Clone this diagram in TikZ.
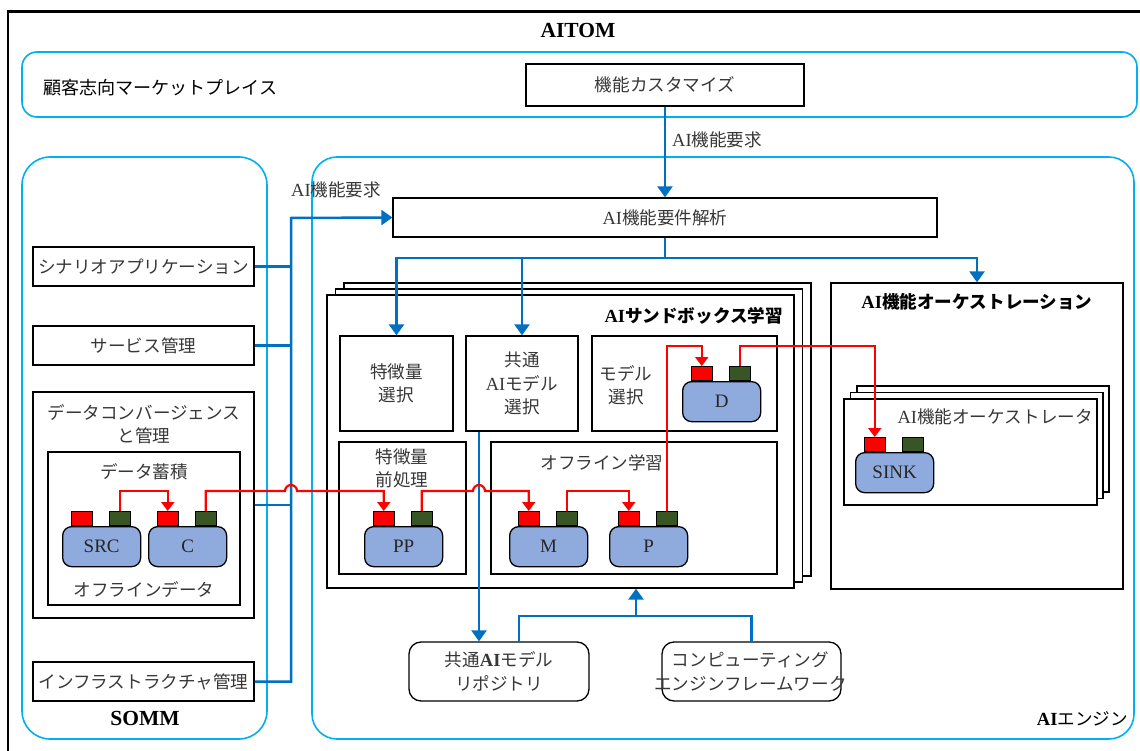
\documentclass[tikz,border=0pt]{standalone}
\usepackage{fontspec}
\setmainfont{Liberation Serif}
\newfontfamily\cjk[Scale=0.95]{Noto Sans CJK JP}
\newcommand\J[1]{{\cjk #1}}
\usetikzlibrary{fit,calc,arrows.meta}
\definecolor{cyanl}{RGB}{0,176,240}
\definecolor{bluel}{RGB}{0,112,192}
\definecolor{modf}{RGB}{143,170,220}
\definecolor{portgc}{RGB}{55,86,35}
\definecolor{txt}{RGB}{55,55,55}
\newcommand\mymod[4]{%
  \node[modbody,anchor=north west] (#1) at (#2,#3) {};
  \node[modtext] (#1t) at (#1.center) {#4};
  \node[portr,anchor=south west] (#1r) at ([xshift=9pt]#1.north west) {};
  \node[portgr,anchor=south west] (#1g) at ([xshift=47pt]#1.north west) {};
}
\begin{document}
\begin{tikzpicture}[x=1pt,y=-1pt,
  font=\fontsize{18.5}{23.5}\selectfont,
  box/.style={draw=black,line width=1.3pt,fill=white,inner sep=0pt},
  cont/.style={draw=cyanl,line width=1.6pt,rounded corners=#1,inner sep=0pt},
  rbox/.style={box,rounded corners=12pt},
  modbody/.style={draw=black,line width=1.3pt,fill=modf,rounded corners=9pt,minimum width=78pt,minimum height=40pt,inner sep=0pt},
  modtext/.style={text=black!85,inner sep=0pt,font=\fontsize{19}{23.5}\selectfont},
  portr/.style={draw=black,line width=1pt,fill=red,minimum width=20.5pt,minimum height=14pt,inner sep=0pt},
  portgr/.style={draw=black,line width=1pt,fill=portgc,minimum width=20.5pt,minimum height=14pt,inner sep=0pt},
  bl/.style={draw=bluel,line width=2.5pt},
  blarr/.style={bl,-{Triangle[length=11pt,width=15pt]}},
  rarr/.style={draw=red,line width=2.2pt,-{Triangle[length=9pt,width=13pt]}},
  lbl/.style={text=txt,inner sep=0pt,align=center},
  ttl/.style={text=black,inner sep=0pt,align=center,font=\fontsize{18.5}{23.5}\selectfont\bfseries},
]
\useasboundingbox (0,0) rectangle (1140,751);
\clip (0,0) rectangle (1140,751);
\fill[white] (0,0) rectangle (1140,751);
% outer frame
\draw[line width=2.5pt] (8,11.5) rectangle (1170,780);
\node[ttl,font=\fontsize{21.5}{24}\selectfont\bfseries] (aitom) at (578,30) {AITOM};

% containers
\node[cont=15pt,fit={(22,52)(1137,117)}] (mkt) {};
\node[lbl,text=black,anchor=west] (mktl) at (43,88) {\fontsize{19}{24}\selectfont\J{顧客志向マーケットプレイス}};
\node[cont=28pt,fit={(22,157)(267,739)}] (somm) {};
\node[cont=25pt,fit={(312,157)(1134,739)}] (eng) {};
\node[ttl,font=\fontsize{21.5}{24}\selectfont\bfseries] (somml) at (145,718) {SOMM};
\node[lbl,text=black,anchor=east] (engl) at (1128,719) {\textbf{AI}\J{エンジン}};

% top boxes
\node[box,fit={(526,64)(804,106)}] (kino) {};
\node[lbl] (kinol) at (kino.center) {\J{機能カスタマイズ}};
\node[box,fit={(393,198)(937,237)}] (ana) {};
\node[lbl] (anal) at (ana.center) {AI\J{機能要件解析}};

% SOMM boxes
\node[box,fit={(33,247)(254,286)}] (scen) {};
\node[lbl] (scenl) at (scen.center) {\J{シナリオアプリケーション}};
\node[box,fit={(33,326)(254,365)}] (serv) {};
\node[lbl] (servl) at (serv.center) {\J{サービス管理}};
\node[box,fit={(33,392)(254,618)}] (conv) {};
\node[lbl] (convl) at (144,424) {\J{データコンバージェンス}\\\J{と管理}};
\node[box,fit={(48,452)(240,605)}] (store) {};
\node[lbl] (storel) at (144,472) {\J{データ蓄積}};
\node[lbl] (offd) at (144,590) {\J{オフラインデータ}};
\node[box,fit={(33,662)(254,701)}] (infra) {};
\node[lbl] (infral) at (infra.center) {\J{インフラストラクチャ管理}};

% sandbox stack
\node[box,fit={(344,283)(811,576)}] (sb3) {};
\node[box,fit={(335.5,289)(802.5,582)}] (sb2) {};
\node[box,fit={(327,295)(794,588)}] (sb) {};
\node[ttl,anchor=east] (sbl) at (783,316) {AI\J{サンドボックス学習}};
\node[box,fit={(340,336)(453,431)}] (fsel) {};
\node[lbl] (fsell) at (fsel.center) {\J{特徴量}\\\J{選択}};
\node[box,fit={(466,336)(578,431)}] (csel) {};
\node[lbl] (csell) at (csel.center) {\J{共通}\\AI\J{モデル}\\\J{選択}};
\node[box,fit={(592,336)(777,431)}] (msel) {};
\node[lbl] (msell) at (626,385) {\J{モデル}\\\J{選択}};
\node[box,fit={(339,442)(466,574)}] (fpre) {};
\node[lbl] (fprel) at (402,468.5) {\J{特徴量}\\\J{前処理}};
\node[box,fit={(491,442)(777,574)}] (offl) {};
\node[lbl] (offll) at (602,463) {\J{オフライン学習}};

% orchestration
\node[box,fit={(831,283)(1123,589)}] (orch) {};
\node[ttl] (orchl) at (977,302) {AI\J{機能オーケストレーション}};
\node[box,fit={(857,386)(1109,492)}] (or3) {};
\node[box,fit={(850.5,392.5)(1103,498.5)}] (or2) {};
\node[box,fit={(844,399)(1097,505)}] (or1) {};
\node[lbl,anchor=east] (or1l) at (1093,417) {AI\J{機能オーケストレータ}};

% bottom boxes
\node[rbox,fit={(409,642)(589,701)}] (repo) {};
\node[lbl] (repol) at (repo.center) {\J{共通}\textbf{AI}\J{モデル}\\\J{リポジトリ}};
\node[rbox,fit={(662,642)(841,701)}] (comp) {};
\node[lbl] (compl) at ([xshift=-1pt]comp.center) {\J{コンピューティング}\\\J{エンジンフレームワーク}};

% blue connectors
\draw[blarr] (kino.south) -- (ana.north);
\node[lbl,anchor=west] (req1) at (672,140) {AI\J{機能要求}};
\coordinate (bus) at (291,218);
\draw[blarr] (infra.east) -| (bus) -- (ana.west);
\draw[bl] (scen.east) -- (scen.east -| bus);
\draw[bl] (serv.east) -- (serv.east -| bus);
\draw[bl] (conv.east) -- (conv.east -| bus);
\node[lbl,anchor=west] (req2) at (291,190) {AI\J{機能要求}};
\coordinate (dist) at (665,258);
\draw[blarr] (ana.south) -- (dist) -| (orch.north);
\draw[blarr] (dist) -| (fsel.north);
\draw[blarr] (dist) -| (csel.north);
\draw[blarr] ([xshift=-43pt]csel.south) -- ([xshift=-43pt]csel.south |- repo.north);
\coordinate (merge) at (636,616);
\draw[bl] ([xshift=20pt]repo.north) |- (merge) -| (comp.north);
\draw[blarr] (merge) -- (merge |- sb.south);

% modules
\mymod{SRC}{62}{526}{SRC}
\mymod{C}{148}{526}{C}
\mymod{PP}{364}{526}{PP}
\mymod{M}{509}{526}{M}
\mymod{P}{609}{526}{P}
\mymod{D}{682}{381}{D}
\mymod{SINK}{855}{452}{SINK}

% red connectors
\coordinate (h1) at (0,491);
\coordinate (h2) at (0,346);
\draw[rarr] (SRCg.north) -- (SRCg.north |- h1) -| (Cr.north);
\draw[rarr] (Cg.north) -- (Cg.north |- h1) -- (285,491) arc[start angle=180,end angle=360,radius=6] -- (PPr.north |- h1) -- (PPr.north);
\draw[rarr] (PPg.north) -- (PPg.north |- h1) -- (473,491) arc[start angle=180,end angle=360,radius=6] -- (Mr.north |- h1) -- (Mr.north);
\draw[rarr] (Mg.north) -- (Mg.north |- h1) -| (Pr.north);
\draw[rarr] (Pg.north) -- (Pg.north |- h2) -| (Dr.north);
\draw[rarr] (Dg.north) -- (Dg.north |- h2) -| (SINKr.north);
\end{tikzpicture}
\end{document}
